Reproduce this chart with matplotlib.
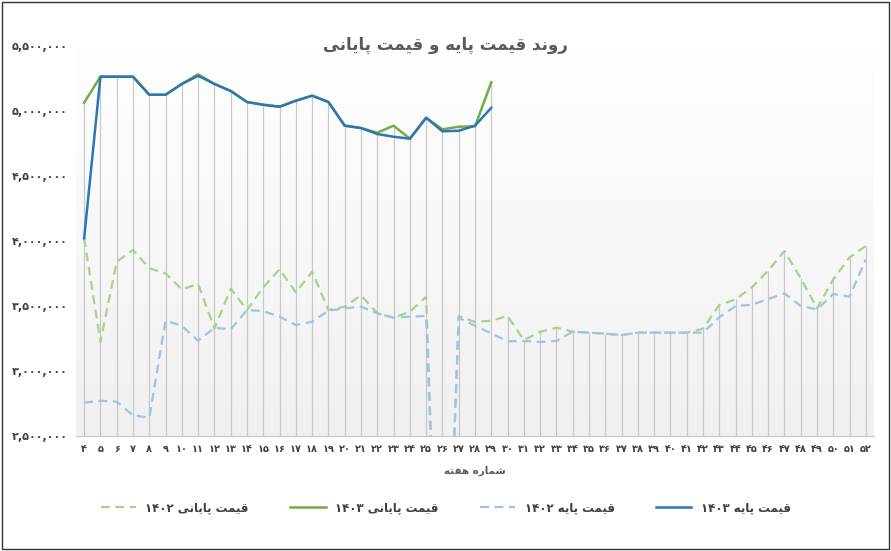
import unicodedata
import numpy as np
import matplotlib
matplotlib.use("Agg")
import matplotlib.pyplot as plt
from matplotlib.lines import Line2D

weeks = list(range(4, 53))
final_1403 = [5064000, 5264000, 5264000, 5264000, 5125000, 5125000, 5208000, 5282000, 5208000, 5154000,
              5069000, 5048000, 5033000, 5079000, 5118000, 5069000, 4887000, 4869000, 4833000, 4887000,
              4787000, 4948000, 4859000, 4879000, 4882000, 5221000]
base_1403 = [4021000, 5264000, 5264000, 5264000, 5125000, 5125000, 5208000, 5271000, 5208000, 5154000,
             5069000, 5048000, 5033000, 5079000, 5118000, 5069000, 4887000, 4869000, 4823000, 4802000,
             4787000, 4948000, 4844000, 4848000, 4887000, 5025000]
final_1402 = [4021000, 3225000, 3841000, 3931000, 3790000, 3751000, 3628000, 3669000, 3328000, 3633000,
              3469000, 3644000, 3782000, 3605000, 3764000, 3469000, 3495000, 3582000, 3444000, 3410000,
              3456000, 3571000, 0, 3423000, 3377000, 3387000, 3423000,
              3238000, 3302000, 3333000, 3302000, 3295000, 3287000, 3277000, 3295000, 3295000, 3295000,
              3295000, 3325000, 3508000, 3551000, 3644000, 3772000, 3923000, 3713000, 3482000, 3705000,
              3874000, 3962000]
base_1402 = [2756000, 2771000, 2764000, 2659000, 2641000, 3387000, 3348000, 3233000, 3333000, 3320000,
             3469000, 3461000, 3418000, 3354000, 3379000, 3464000, 3482000, 3495000, 3444000, 3410000,
             3418000, 3423000, 0, 3410000, 3348000, 3290000, 3229000,
             3231000, 3223000, 3231000, 3302000, 3295000, 3287000, 3277000, 3295000, 3295000, 3295000,
             3295000, 3295000, 3413000, 3500000, 3510000, 3554000, 3597000, 3500000, 3474000, 3592000,
             3572000, 3859000]
y_ticks = [2500000, 3000000, 3500000, 4000000, 4500000, 5000000, 5500000]

title_txt = "روند قیمت پایه و قیمت پایانی"
xlabel_txt = "شماره هفته"
names = ["قیمت پایانی", "قیمت پایانی", "قیمت پایه", "قیمت پایه"]
years = ["۱۴۰۲", "۱۴۰۳", "۱۴۰۲", "۱۴۰۳"]

FA = str.maketrans("0123456789", "۰۱۲۳۴۵۶۷۸۹")
RIGHT_ONLY = set("اآدذرزژو")


def form(ch, kind):
    try:
        n = unicodedata.name(ch)
        return unicodedata.lookup(n + " " + kind + " FORM")
    except Exception:
        return ch


def shape_word(w):
    out = []
    for i, ch in enumerate(w):
        prev_joins = i > 0 and w[i - 1] not in RIGHT_ONLY
        next_joins = i < len(w) - 1 and ch not in RIGHT_ONLY
        if prev_joins and next_joins:
            out.append(form(ch, "MEDIAL"))
        elif prev_joins:
            out.append(form(ch, "FINAL"))
        elif next_joins:
            out.append(form(ch, "INITIAL"))
        else:
            out.append(form(ch, "ISOLATED"))
    return "".join(out)


def rtl(s):
    words = [shape_word(w)[::-1] for w in s.split(" ")]
    return " ".join(words[::-1])


plt.rcParams["font.family"] = "DejaVu Sans"
fig = plt.figure(figsize=(8.91, 5.51), dpi=100)
ax = fig.add_axes([76 / 891, 1 - 436 / 551, (874 - 76) / 891, (436 - 46) / 551])

x = np.array(weeks)
ax.set_xlim(x[0] - 0.5, x[-1] + 0.5)
ax.set_ylim(2500000, 5500000)
grad = np.linspace(0, 1, 256).reshape(-1, 1)
ax.imshow(grad, extent=[x[0] - 0.5, x[-1] + 0.5, 2500000, 5500000], aspect="auto",
          cmap=matplotlib.colors.LinearSegmentedColormap.from_list("g", ["#f0f0f0", "#ffffff"]),
          zorder=0, origin="lower")

n3 = len(final_1403)
tops = np.maximum(final_1402, base_1402).astype(float)
tops[:n3] = np.maximum(tops[:n3], np.maximum(final_1403, base_1403))
ax.vlines(x, 2500000, tops, color="#c8c8c8", lw=0.9, zorder=1)

ax.plot(x, final_1402, color="#a9d18e", lw=1.6, ls=(0, (4, 2.5)), zorder=3)
ax.plot(x, base_1402, color="#9dc3e6", lw=1.6, ls=(0, (4, 2.5)), zorder=3)
ax.plot(x[:n3], final_1403, color="#70ad47", lw=1.8, zorder=4)
ax.plot(x[:n3], base_1403, color="#2e75b6", lw=1.8, zorder=5)

ax.set_yticks(y_ticks)
ax.set_yticklabels([f"{v:,}".translate(FA) for v in y_ticks], fontsize=8, fontweight="bold", color="#404040")
ax.set_xticks(x)
ax.set_xticklabels([str(w).translate(FA) for w in weeks], fontsize=7, fontweight="bold", color="#404040")
ax.tick_params(length=0, pad=6)
for s in ["top", "right", "left"]:
    ax.spines[s].set_visible(False)
ax.spines["bottom"].set_color("#c8c8c8")

fig.text(0.5, 1 - 45 / 551, rtl(title_txt), ha="center", va="center", fontsize=12,
         fontweight="bold", color="#595959")
fig.text(475 / 891, 1 - 471 / 551, rtl(xlabel_txt), ha="center", va="center", fontsize=7.5,
         fontweight="bold", color="#595959")

handles = [
    Line2D([], [], color="#a9d18e", lw=1.6, ls=(0, (4, 2.5))),
    Line2D([], [], color="#70ad47", lw=1.8),
    Line2D([], [], color="#9dc3e6", lw=1.6, ls=(0, (4, 2.5))),
    Line2D([], [], color="#2e75b6", lw=1.8),
]
labels = [y + " " + rtl(n) for n, y in zip(names, years)]
leg = fig.legend(handles, labels, loc="center", bbox_to_anchor=(0.5, 1 - 508 / 551), ncol=4,
                 frameon=False, fontsize=8.5, handlelength=3, columnspacing=3.5)
for t in leg.get_texts():
    t.set_fontweight("bold")
    t.set_color("#404040")

fig.patches.append(matplotlib.patches.Rectangle((2 / 891, 2 / 551), 887 / 891, 547 / 551,
                                                transform=fig.transFigure, fill=False,
                                                edgecolor="#333333", lw=1))
fig.savefig("out.png", dpi=100)
